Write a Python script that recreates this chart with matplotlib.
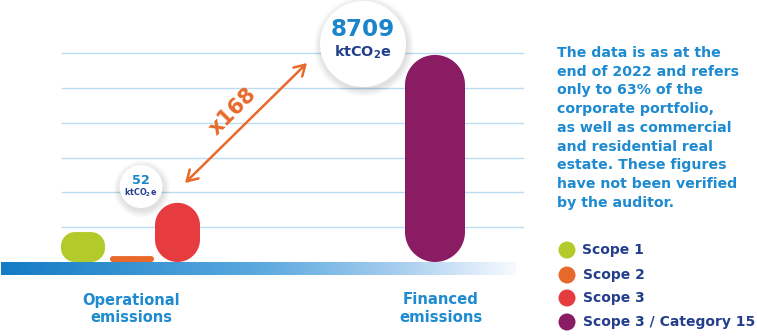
import numpy as np
import matplotlib
matplotlib.use("Agg")
import matplotlib.pyplot as plt
from matplotlib.patches import Polygon, Ellipse
from matplotlib.colors import LinearSegmentedColormap

plt.rcParams['font.family'] = ['DejaVu Sans']
plt.rcParams['mathtext.fontset'] = 'dejavusans'

# ---- data (bar heights in gridline units, as drawn in the infographic) ----
series = ["Scope 1", "Scope 2", "Scope 3", "Scope 3 / Category 15"]
bar_values = [0.86, 0.17, 1.70, 5.95]
colors = ["#b2cb2a", "#e8692a", "#e63c3f", "#8a1c64"]
groups = ["Operational\nemissions", "Financed\nemissions"]
operational_total = 52
financed_total = 8709
multiplier = 168
note_lines = ["The data is as at the", "end of 2022 and refers", "only to 63% of the",
              "corporate portfolio,", "as well as commercial", "and residential real",
              "estate. These figures", "have not been verified", "by the auditor."]
unit = r"ktCO$_\mathbf{2}$e"

# ---- layout helpers (pixel -> data) ----
W, H = 757, 336
BASE = 262.0
GRID = 34.8


def Y(r):
    return (BASE - r) / GRID


fig = plt.figure(figsize=(W / 100, H / 100), dpi=100)
ax = fig.add_axes([0, 0, 1, 1])
ax.set_xlim(0, W)
ax.set_ylim(Y(H), Y(0))
ax.axis('off')

BLUE = "#1e8ad0"
NAVY = "#233f8c"

# gridlines
for g in range(1, 7):
    ax.plot([62, 523], [g, g], color="#bcdcf3", lw=1.0, zorder=1)

# base gradient bar
cmap = LinearSegmentedColormap.from_list(
    "base", [(0, "#137cc5"), (0.5, "#5aa9df"), (0.78, "#a9cfef"), (1, "#f7fafe")])
grad = np.linspace(0, 1, 256).reshape(1, -1)
ax.imshow(grad, extent=[1, 516, Y(275), Y(262)], aspect='auto', cmap=cmap, zorder=2)


def rounded_bar(x0, w, v, rad, color):
    hpx = v * GRID
    r = min(rad, hpx / 2, w / 2)
    t = np.linspace(0, np.pi / 2, 24)
    pts = []
    for cx, cy, a0 in [(x0 + w - r, r, -np.pi / 2), (x0 + w - r, hpx - r, 0),
                       (x0 + r, hpx - r, np.pi / 2), (x0 + r, r, np.pi)]:
        for a in a0 + t:
            pts.append((cx + r * np.cos(a), (cy + r * np.sin(a)) / GRID))
    ax.add_patch(Polygon(pts, closed=True, fc=color, ec='none', zorder=3))


# bars: (left px, width px, rounding radius px)
geom = [(61, 44, 14), (110, 44, 3), (155, 45, 22.5), (405, 60, 30)]
for (x0, w, rad), v, c in zip(geom, bar_values, colors):
    rounded_bar(x0, w, v, rad, c)


def bubble(cx, cr, rad):
    for k in range(10, 0, -1):
        ax.add_patch(Ellipse((cx + 1, Y(cr + 2.5)), 2 * (rad + k * 0.7),
                             2 * (rad + k * 0.7) / GRID, fc="#000000",
                             alpha=0.012, ec='none', zorder=4))
    ax.add_patch(Ellipse((cx, Y(cr)), 2 * rad, 2 * rad / GRID, fc="white",
                         ec='none', zorder=5))


fig.canvas.draw()
renderer = fig.canvas.get_renderer()


def fit(txt, target_px):
    """Scale a text's font size so that its unrotated width is target_px."""
    rot = txt.get_rotation()
    txt.set_rotation(0)
    w = txt.get_window_extent(renderer).width
    txt.set_fontsize(txt.get_fontsize() * target_px / w)
    txt.set_rotation(rot)
    return txt


bubble(363, 44, 43)
fit(ax.text(363, Y(29), f"{financed_total}", ha='center', va='center', color="#1a84cc",
            fontsize=20, fontweight='bold', zorder=6), 64)
fit(ax.text(363, Y(52), unit, ha='center', va='center', color=NAVY,
            fontsize=10.5, fontweight='bold', zorder=6), 58)

bubble(141, 186.5, 21.5)
fit(ax.text(141, Y(180), f"{operational_total}", ha='center', va='center', color="#1a84cc",
            fontsize=11, fontweight='bold', zorder=6), 18)
fit(ax.text(141, Y(193), unit, ha='center', va='center', color=NAVY,
            fontsize=5.5, fontweight='bold', zorder=6), 33)

# double arrow
ax.annotate("", xy=(307, Y(63)), xytext=(185, Y(183)),
            arrowprops=dict(arrowstyle="<->,head_length=0.75,head_width=0.45",
                            color="#e8692a", lw=1.8, shrinkA=0, shrinkB=0), zorder=6)
fit(ax.text(233, Y(111), f"x{multiplier}", ha='center', va='center', rotation=45,
            rotation_mode='anchor', color="#e8692a", fontsize=14, fontweight='bold',
            zorder=6), 58)

# group labels
for label, cx, first_w in [(groups[0], 131, 97), (groups[1], 441, 76)]:
    l1, l2 = label.split("\n")
    t1 = fit(ax.text(cx, Y(300), l1, ha='center', va='center', color=BLUE,
                     fontsize=10, fontweight='bold'), first_w)
    ax.text(cx, Y(318), l2, ha='center', va='center', color=BLUE,
            fontsize=t1.get_fontsize(), fontweight='bold')

# note
t0 = fit(ax.text(557, Y(72), note_lines[1], ha='left', va='center', color=BLUE,
                 fontsize=10, fontweight='bold'), 183)
fs = t0.get_fontsize()
t0.remove()
for i, line in enumerate(note_lines):
    ax.text(557, Y(53 + i * 18.7), line, ha='left', va='center', color=BLUE,
            fontsize=fs, fontweight='bold')

# legend
leg_rows = [250, 275, 298, 322]
t0 = fit(ax.text(583, Y(leg_rows[3]), series[3], ha='left', va='center', color=NAVY,
                 fontsize=10, fontweight='bold'), 172)
lfs = t0.get_fontsize()
t0.remove()
for name, c, r in zip(series, colors, leg_rows):
    ax.add_patch(Ellipse((567, Y(r)), 17, 17 / GRID, fc=c, ec='none'))
    ax.text(582 if r == leg_rows[0] else 583, Y(r), name, ha='left', va='center',
            color=NAVY, fontsize=lfs, fontweight='bold')

fig.savefig("out.png", dpi=100)
